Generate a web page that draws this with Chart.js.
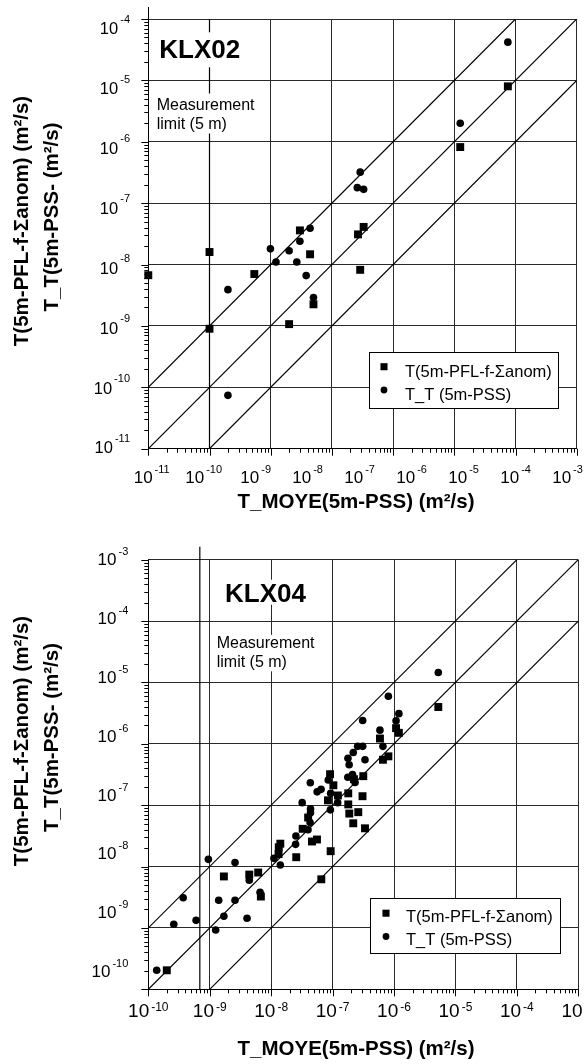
<!DOCTYPE html>
<html>
<head>
<meta charset="utf-8">
<script src="https://cdn.jsdelivr.net/npm/chart.js@4.4.0/dist/chart.umd.min.js"></script>
<style>
  html, body { margin: 0; padding: 0; background: #fff; }
  #wrap { position: relative; width: 584px; height: 1064px; }
  .panel { position: absolute; left: 0; width: 584px; height: 532px; }
</style>
</head>
<body>
<div id="wrap">
  <div class="panel" style="top:0"><canvas id="klx02"></canvas></div>
  <div class="panel" style="top:532px"><canvas id="klx04"></canvas></div>
</div>
<script>
// ---- data (x = T_MOYE, y = T) ----
const klx02Pfl = [
  [1e-11, 6.7e-9], [1e-10, 1.6e-8], [1e-10, 9.0e-10], [5.4e-10, 7.0e-9],
  [2.0e-9, 1.07e-9], [3.0e-9, 3.6e-8], [4.4e-9, 1.47e-8], [5.0e-9, 2.25e-9],
  [2.67e-8, 3.1e-8], [3.3e-8, 4.1e-8], [2.9e-8, 8.2e-9], [1.25e-6, 8.2e-7],
  [7.5e-6, 8.0e-6]
];
const klx02Pss = [
  [2.0e-10, 3.9e-9], [2.0e-10, 7.4e-11], [9.9e-10, 1.8e-8], [1.22e-9, 1.1e-8],
  [2.0e-9, 1.68e-8], [2.67e-9, 1.1e-8], [3.0e-9, 2.4e-8], [3.8e-9, 6.6e-9],
  [4.4e-9, 3.9e-8], [5.0e-9, 2.9e-9], [2.6e-8, 1.79e-7], [2.9e-8, 3.2e-7],
  [3.3e-8, 1.68e-7], [1.25e-6, 2.0e-6], [7.5e-6, 4.2e-5]
];

const klx04Pfl = [
  [5.26e-6, 3.98e-6], [1.08e-6, 1.8e-6], [1.2e-6, 1.51e-6], [5.9e-7, 1.22e-6],
  [6.6e-7, 5.5e-7], [8.1e-7, 6.25e-7], [9.1e-8, 3.2e-7], [3.16e-7, 2.97e-7],
  [2.23e-7, 2.65e-7], [1.03e-7, 2.11e-7], [1.8e-7, 1.56e-7], [1.22e-7, 1.44e-7],
  [3.07e-7, 1.4e-7], [8.4e-8, 1.2e-7], [1.8e-7, 1.03e-7], [1.87e-7, 7.3e-8],
  [2.62e-7, 7.7e-8], [2.17e-7, 5.07e-8], [3.37e-7, 4.2e-8], [4.0e-8, 6.3e-8],
  [3.26e-8, 4.12e-8], [4.62e-8, 2.56e-8], [5.57e-8, 2.76e-8], [1.41e-8, 2.36e-8],
  [1.33e-8, 2.06e-8], [1.32e-8, 1.6e-8], [2.56e-8, 1.42e-8], [9.3e-8, 1.78e-8],
  [1.7e-9, 6.9e-9], [4.4e-9, 7.4e-9], [6.15e-9, 8.0e-9], [6.55e-8, 6.2e-9],
  [6.8e-9, 3.25e-9], [2.0e-10, 2.04e-10]
];
const klx04Pss = [
  [5.26e-6, 1.45e-5], [8.1e-7, 5.97e-6], [1.2e-6, 3.1e-6], [1.08e-6, 2.37e-6],
  [3.09e-7, 2.4e-6], [5.9e-7, 1.67e-6], [6.6e-7, 9.1e-7], [2.56e-7, 9.1e-7],
  [3.09e-7, 9.1e-7], [2.17e-7, 7.2e-7], [1.78e-7, 5.8e-7], [1.86e-7, 4.57e-7],
  [3.37e-7, 5.5e-7], [8.5e-8, 2.57e-7], [1.77e-7, 2.86e-7], [2.11e-7, 3.16e-7],
  [2.32e-7, 2.34e-7], [4.34e-8, 2.32e-7], [6.5e-8, 1.81e-7], [5.6e-8, 1.65e-7],
  [9.3e-8, 1.56e-7], [1.21e-7, 1.1e-7], [3.2e-8, 1.1e-7], [9.2e-8, 8.4e-8],
  [4.37e-8, 8.7e-8], [4.37e-8, 7.5e-8], [4.3e-8, 5.2e-8], [3.98e-8, 3.98e-8],
  [2.53e-8, 3.15e-8], [2.5e-8, 2.3e-8], [1.11e-8, 1.36e-8], [1.41e-8, 1.06e-8],
  [9.5e-10, 1.31e-8], [2.58e-9, 1.16e-8], [4.4e-9, 6.0e-9], [3.7e-10, 3.1e-9],
  [1.4e-9, 2.82e-9], [2.58e-9, 2.82e-9], [6.6e-9, 3.8e-9], [2.6e-10, 1.15e-9],
  [6.0e-10, 1.33e-9], [1.7e-9, 1.55e-9], [4.05e-9, 1.44e-9], [1.25e-9, 9.25e-10],
  [1.37e-10, 2.04e-10]
];

// tick labels (exponents of 10)
const klx02XLabels = ['-11', '-10', '-9', '-8', '-7', '-6', '-5', '-4', '-3'];
const klx02YLabels = ['-4', '-5', '-6', '-7', '-8', '-9', '-10', '-11'];
const klx04XLabels = ['-10', '-9', '-8', '-7', '-6', '-5', '-4', '-3'];
const klx04YLabels = ['-3', '-4', '-5', '-6', '-7', '-8', '-9', '-10'];

const diagonalFactors = [10, 1, 0.1];
const pflLabel = 'T(5m-PFL-f-Σanom)';
const pssLabel = 'T_T (5m-PSS)';

const FONT = "'Liberation Sans', Arial, sans-serif";
const GRID = '#2a2a2a';

const pts = arr => arr.map(([x, y]) => ({ x, y }));

function diagonal(f, xr, yr) {
    const x0 = Math.max(xr[0], yr[0] / f);
    const x1 = Math.min(xr[1], yr[1] / f);
    return [{ x: x0, y: f * x0 }, { x: x1, y: f * x1 }];
}

function isDecade(v) {
    if (!v) return false;
    const e = Math.log10(v);
    return Math.abs(e - Math.round(e)) < 1e-6;
}

function drawPow(ctx, exp, x, baseline, align, size, supSize, raise) {
    ctx.font = size + 'px ' + FONT;
    const wb = ctx.measureText('10').width;
    ctx.font = supSize + 'px ' + FONT;
    const ws = ctx.measureText(exp).width;
    const total = wb + 2 + ws;
    const x0 = align === 'right' ? x - total : x - total / 2;
    ctx.textAlign = 'left';
    ctx.textBaseline = 'alphabetic';
    ctx.font = size + 'px ' + FONT;
    ctx.fillText('10', x0, baseline);
    ctx.font = supSize + 'px ' + FONT;
    ctx.fillText(exp, x0 + wb + 2, baseline - raise);
}

// everything that is not a data mark: ticks, labels, notes, legend
const decor = {
    id: 'decor',
    afterDatasetsDraw(chart, args, o) {
        const ctx = chart.ctx;
        const area = chart.chartArea;
        const sx = chart.scales.x, sy = chart.scales.y;
        const xl = chart.scales.xl, yl = chart.scales.yl;
        ctx.save();
        ctx.strokeStyle = '#000';
        ctx.fillStyle = '#000';
        ctx.lineWidth = 1;

        // axis stub above the frame
        if (o.stub) {
            const lx = Math.round(area.left) + 0.5;
            ctx.beginPath();
            ctx.moveTo(lx, area.top - o.stub);
            ctx.lineTo(lx, area.top);
            ctx.stroke();
        }

        // tick marks
        ctx.beginPath();
        for (let d = Math.round(Math.log10(sx.min)); d <= Math.round(Math.log10(sx.max)); d++) {
            for (let k = 1; k <= 9; k++) {
                const v = k * Math.pow(10, d);
                if (v > sx.max * 1.0001) break;
                const px = Math.round(sx.getPixelForValue(v)) + 0.5;
                ctx.moveTo(px, area.bottom);
                ctx.lineTo(px, area.bottom + (k === 1 ? 7 : 4));
            }
        }
        for (let d = Math.round(Math.log10(sy.min)); d <= Math.round(Math.log10(sy.max)); d++) {
            for (let k = 1; k <= 9; k++) {
                const v = k * Math.pow(10, d);
                if (v > sy.max * 1.0001) break;
                const py = Math.round(sy.getPixelForValue(v)) + 0.5;
                ctx.moveTo(area.left, py);
                ctx.lineTo(area.left - (k === 1 ? 7 : 4), py);
            }
        }
        ctx.stroke();

        // tick labels
        o.xLabels.forEach(e => {
            const px = xl.getPixelForValue(Math.pow(10, Number(e)));
            drawPow(ctx, e, px, o.xLab.baseline, 'center', o.xLab.size, o.xLab.sup, o.xLab.raise);
        });
        o.yLabels.forEach(e => {
            const py = yl.getPixelForValue(Math.pow(10, Number(e)));
            drawPow(ctx, e, o.yLab.right, py + o.yLab.size * 0.358, 'right', o.yLab.size, o.yLab.sup, o.yLab.raise);
        });

        // axis titles
        ctx.font = 'bold ' + o.titleSize + 'px ' + FONT;
        ctx.textAlign = 'center';
        ctx.fillText(o.xTitle.text, o.xTitle.cx, o.xTitle.baseline);
        o.yTitles.forEach(t => {
            ctx.save();
            ctx.translate(t.x, t.cy);
            ctx.rotate(-Math.PI / 2);
            ctx.fillText(t.text, 0, 0);
            ctx.restore();
        });

        // notes with white backing
        o.notes.forEach(n => {
            ctx.font = n.font;
            ctx.textAlign = 'left';
            const w = Math.max(...n.lines.map(s => ctx.measureText(s).width));
            const cap = n.capSize;
            const last = n.y + (n.lines.length - 1) * n.lh;
            ctx.fillStyle = '#fff';
            ctx.fillRect(n.x - 3, n.y - cap - n.pad[0], w + 6, last - n.y + cap + n.pad[0] + n.pad[1]);
            ctx.fillStyle = '#000';
            n.lines.forEach((s, i) => ctx.fillText(s, n.x, n.y + i * n.lh));
        });

        // legend
        const lg = o.legend;
        ctx.fillStyle = '#fff';
        ctx.fillRect(lg.x, lg.y, lg.w, lg.h);
        ctx.strokeRect(Math.round(lg.x) + 0.5, Math.round(lg.y) + 0.5, Math.round(lg.w), Math.round(lg.h));
        ctx.fillStyle = '#000';
        ctx.font = lg.size + 'px ' + FONT;
        ctx.textAlign = 'left';
        chart.data.datasets.filter(ds => ds.inLegend).forEach((ds, i) => {
            const b = lg.baselines[i];
            Chart.helpers.drawPoint(ctx, {
                pointStyle: ds.pointStyle, rotation: 0,
                radius: ds.pointStyle === 'rect' ? 5 : 3.4, borderWidth: 0
            }, lg.markerX, b - lg.markerUp);
            ctx.fillText(ds.label, lg.textX, b);
        });
        ctx.restore();
    }
};

function logScale(min, max, hidden) {
    const s = {
        type: 'logarithmic', min, max,
        display: !hidden,
        ticks: { display: false },
        grid: {
            drawTicks: false,
            lineWidth: 1,
            color: c => (c.tick && isDecade(c.tick.value)) ? GRID : 'rgba(0,0,0,0)'
        },
        border: { color: '#000', width: 1 }
    };
    return s;
}

function makeChart(id, cfg) {
    const datasets = diagonalFactors.map(f => ({
        data: diagonal(f, cfg.xRange, cfg.yRange),
        showLine: true, borderColor: '#000', borderWidth: 1.2, pointRadius: 0
    }));
    datasets.push({
        data: [{ x: cfg.limit, y: cfg.yRange[0] }, { x: cfg.limit, y: cfg.limitTop }],
        showLine: true, borderColor: '#000', borderWidth: 1.2, pointRadius: 0, clip: false
    });
    datasets.push({
        label: pflLabel, data: pts(cfg.pfl), inLegend: true, clip: false,
        pointStyle: 'rect', pointRadius: 5.6, backgroundColor: '#000', borderWidth: 0
    });
    datasets.push({
        label: pssLabel, data: pts(cfg.pss), inLegend: true, clip: false,
        pointStyle: 'circle', pointRadius: 3.8, backgroundColor: '#000', borderWidth: 0
    });

    const x = logScale(cfg.xRange[0], cfg.xRange[1]);
    x.position = 'bottom';
    x.afterFit = s => { s.height = 0; };
    const y = logScale(cfg.yRange[0], cfg.yRange[1]);
    y.position = 'left';
    y.afterFit = s => { s.width = 0; };
    const xl = logScale(cfg.labelSpan.x[0], cfg.labelSpan.x[1], true);
    xl.position = 'bottom';
    const yl = logScale(cfg.labelSpan.y[0], cfg.labelSpan.y[1], true);
    yl.position = 'left';

    return new Chart(document.getElementById(id), {
        type: 'scatter',
        data: { datasets },
        options: {
            responsive: true,
            maintainAspectRatio: false,
            animation: false,
            events: [],
            layout: { padding: cfg.padding },
            plugins: {
                legend: { display: false },
                tooltip: { enabled: false },
                decor: cfg.decor
            },
            scales: { x, y, xl, yl }
        },
        plugins: [decor]
    });
}

makeChart('klx02', {
    xRange: [1e-11, 1e-4],
    yRange: [1e-11, 1e-4],
    labelSpan: { x: [8.6e-12, 1.5e-3], y: [9.55e-12, 1.43e-4] },
    limit: 1e-10,
    limitTop: 1e-4,
    pfl: klx02Pfl,
    pss: klx02Pss,
    padding: { left: 148.3, top: 19, right: 7.3, bottom: 83.3 },
    decor: {
        stub: 12,
        xLabels: klx02XLabels,
        yLabels: klx02YLabels,
        xLab: { baseline: 483.3, size: 17, sup: 11, raise: 10 },
        yLab: { right: 130, size: 16.5, sup: 11, raise: 11.5 },
        titleSize: 20.5,
        xTitle: { text: 'T_MOYE(5m-PSS) (m²/s)', cx: 356, baseline: 508 },
        yTitles: [
            { text: 'T(5m-PFL-f-Σanom) (m²/s)', x: 28, cy: 221 },
            { text: 'T_T(5m-PSS- (m²/s)', x: 58, cy: 217 }
        ],
        notes: [
            { lines: ['KLX02'], x: 159.3, y: 58.3, lh: 0, font: 'bold 26px ' + FONT, capSize: 19, pad: [7, 9] },
            { lines: ['Measurement', 'limit (5 m)'], x: 156.7, y: 110, lh: 18.5, font: '16px ' + FONT, capSize: 11.5, pad: [5, 5] }
        ],
        legend: { x: 369.3, y: 352.3, w: 189.4, h: 56, size: 16.5, markerX: 384, textX: 405, baselines: [376.7, 400], markerUp: 10 }
    }
});

makeChart('klx04', {
    xRange: [1e-10, 1e-3],
    yRange: [1e-10, 1e-3],
    labelSpan: { x: [1e-10, 1e-3], y: [4.89e-11, 9.73e-4] },
    limit: 6.9e-10,
    limitTop: 1.63e-3,
    pfl: klx04Pfl,
    pss: klx04Pss,
    padding: { left: 148.3, top: 27.7, right: 5.7, bottom: 74.7 },
    decor: {
        stub: 0,
        xLabels: klx04XLabels,
        yLabels: klx04YLabels,
        xLab: { baseline: 484.7, size: 19, sup: 12, raise: 6 },
        yLab: { right: 128.3, size: 17, sup: 11, raise: 10 },
        titleSize: 20.5,
        xTitle: { text: 'T_MOYE(5m-PSS) (m²/s)', cx: 356, baseline: 523 },
        yTitles: [
            { text: 'T(5m-PFL-f-Σanom) (m²/s)', x: 28, cy: 209 },
            { text: 'T_T(5m-PSS- (m²/s)', x: 58, cy: 205.5 }
        ],
        notes: [
            { lines: ['KLX04'], x: 225, y: 69.7, lh: 0, font: 'bold 26px ' + FONT, capSize: 19, pad: [3, 3] },
            { lines: ['Measurement', 'limit (5 m)'], x: 216.7, y: 116.3, lh: 19, font: '16px ' + FONT, capSize: 11.5, pad: [2, 4] }
        ],
        legend: { x: 370, y: 366.3, w: 190, h: 55.4, size: 16.5, markerX: 386, textX: 406, baselines: [389.7, 413], markerUp: 8.5 }
    }
});
</script>
</body>
</html>
